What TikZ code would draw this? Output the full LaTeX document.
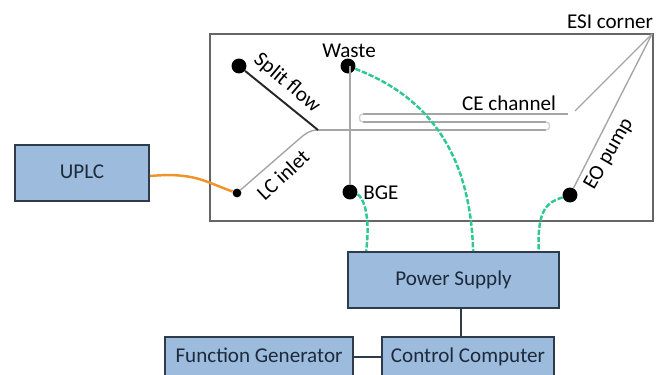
\documentclass[tikz,border=0pt]{standalone}
\usepackage{fontspec}
\setmainfont{Carlito}
\usetikzlibrary{arrows.meta, positioning, calc}
\definecolor{cbox}{HTML}{9DBBDD}
\definecolor{cedge}{HTML}{2E3B4A}
\definecolor{cink}{HTML}{1C2A3C}
\definecolor{cchip}{HTML}{666666}
\definecolor{cchan}{HTML}{A6A6A6}
\definecolor{cgreen}{HTML}{2EC98F}
\definecolor{corange}{HTML}{F0932B}
\tikzset{
  every node/.style={font=\fontsize{12}{14}\selectfont},
  unit/.style={draw=cedge, fill=cbox, text=cink, line width=1.1pt, inner sep=0pt, text height=8.5pt, text depth=2.5pt},
  port/.style={circle, fill=black, inner sep=0pt, minimum size=#1},
  port/.default=8.5pt,
  chan/.style={draw=cchan, line width=0.8pt},
  wire/.style={draw=cedge, line width=1.1pt},
  hv/.style={draw=cgreen, line width=1.4pt, dash pattern=on 3pt off 1.1pt},
  label/.style={text=black, inner sep=0pt},
}
\begin{document}
\begin{tikzpicture}[x=0.02cm, y=-0.02cm]
  \clip (0,0) rectangle (656,375);
  % chip outline
  \node[draw=cchip, line width=1.1pt, minimum width=443*0.02cm, minimum height=187*0.02cm, inner sep=0pt] (chip) at (431.5,127.5) {};
  % instruments
  \node[unit, minimum width=134*0.02cm, minimum height=56*0.02cm] (uplc) at (82,173) {UPLC};
  \node[unit, minimum width=211*0.02cm, minimum height=56*0.02cm] (power) at (453.5,280) {Power Supply};
  \node[unit, minimum width=188*0.02cm, minimum height=40*0.02cm] (funcgen) at (259,357) {Function Generator};
  \node[unit, minimum width=172*0.02cm, minimum height=40*0.02cm] (control) at (468,357) {Control Computer};
  % reservoirs
  \node[port] (split) at (239,66) {};
  \node[port] (waste) at (348,66) {};
  \node[port] (bge) at (350,192) {};
  \node[port] (eo) at (570,195) {};
  \node[port=5pt] (lc) at (237,193) {};
  \coordinate (tee) at (318,130);
  \coordinate (esi) at (652,34);
  \coordinate (turnA) at (546,130);
  \coordinate (turnB) at (546,122);
  \coordinate (turnC) at (363,122);
  \coordinate (turnD) at (363,114);
  \coordinate (ceend) at (568,114);
  % channels
  \draw[chan] (lc) -- (298,140) .. controls (306,133) and (310,130) .. (tee);
  \draw[chan] (tee) -- (turnA);
  \draw[chan] (turnB) -- (turnC);
  \draw[chan] (turnD) -- (ceend);
  \draw[chan, black!18] (turnA) .. controls (551,130) and (551,122) .. (turnB);
  \draw[chan, black!18] (turnC) .. controls (358,122) and (358,114) .. (turnD);
  \draw[chan] (575,111) -- (esi);
  \draw[chan] (eo) -- (esi);
  \draw[chan] (waste.center) ++(2,0) -- (bge);
  \draw[draw=black!85, line width=1.1pt] (split) -- (tee);
  % high voltage leads
  \draw[hv] (waste) .. controls (405,88) and (470,130) .. ($(power.north west)!0.592!(power.north east)$);
  \draw[hv] (bge) .. controls (362,196) and (371,212) .. ($(power.north west)!0.09!(power.north east)$);
  \draw[hv] (eo) .. controls (548,202) and (537,208) .. ($(power.north west)!0.9!(power.north east)$);
  % connections
  \draw[draw=corange, line width=1.4pt] (uplc.east |- 0,176) .. controls (195,172) and (205,182) .. (lc);
  \draw[wire] (power.south -| 461,0) -- (control.north -| 461,0);
  \draw[wire] (funcgen) -- (control);
  % labels
  \node[label, rotate=-40] (splitlbl) at (287,83) {Split flow};
  \node[label, rotate=43] (lclbl) at (283,175) {LC inlet};
  \node[label] (wastelbl) at (349,51) {Waste};
  \node[label] (bgelbl) at (381,193) {BGE};
  \node[label] (celbl) at (509,103) {CE channel};
  \node[label] (esilbl) at (610,22) {ESI corner};
  \node[label, rotate=60] (eolbl) at (609,154) {EO pump};
\end{tikzpicture}
\end{document}
